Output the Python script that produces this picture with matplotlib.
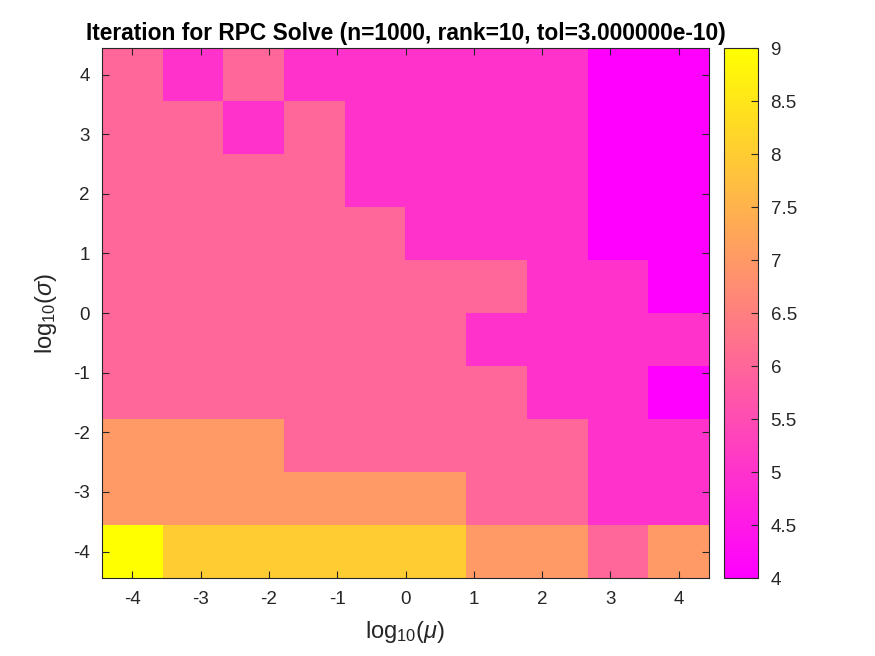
import numpy as np
import matplotlib
matplotlib.use('Agg')
import matplotlib.pyplot as plt

plt.rcParams['font.family'] = ['Liberation Sans', 'DejaVu Sans']
plt.rcParams['mathtext.fontset'] = 'custom'
plt.rcParams['mathtext.rm'] = 'Liberation Sans'
plt.rcParams['mathtext.it'] = 'Liberation Sans:italic'

# grid of log10(mu) and log10(sigma) values
log_mu = np.linspace(-4, 4, 10)
log_sigma = np.linspace(-4, 4, 10)

# iteration counts, rows from sigma=4 (top) down to sigma=-4 (bottom)
iters = [
    [6, 5, 6, 5, 5, 5, 5, 5, 4, 4],
    [6, 6, 5, 6, 5, 5, 5, 5, 4, 4],
    [6, 6, 6, 6, 5, 5, 5, 5, 4, 4],
    [6, 6, 6, 6, 6, 5, 5, 5, 4, 4],
    [6, 6, 6, 6, 6, 6, 6, 5, 5, 4],
    [6, 6, 6, 6, 6, 6, 5, 5, 5, 5],
    [6, 6, 6, 6, 6, 6, 6, 5, 5, 4],
    [7, 7, 7, 6, 6, 6, 6, 6, 5, 5],
    [7, 7, 7, 7, 7, 7, 6, 6, 5, 5],
    [9, 8, 8, 8, 8, 8, 7, 7, 6, 7],
]

title = 'Iteration for RPC Solve (n=1000, rank=10, tol=3.000000e-10)'
tick_vals = [-4, -3, -2, -1, 0, 1, 2, 3, 4]
cbar_ticks = [4, 4.5, 5, 5.5, 6, 6.5, 7, 7.5, 8, 8.5, 9]

dark = '#262626'

fig = plt.figure(figsize=(8.75, 6.56), dpi=100)
ax = fig.add_axes([0.1166, 0.1189, 0.6937, 0.8079])
cax = fig.add_axes([0.8275, 0.1189, 0.0389, 0.8079])

dx = log_mu[1] - log_mu[0]
dy = log_sigma[1] - log_sigma[0]
extent = [log_mu[0] - dx / 2, log_mu[-1] + dx / 2,
          log_sigma[0] - dy / 2, log_sigma[-1] + dy / 2]
im = ax.imshow(np.array(iters), cmap='spring', vmin=4, vmax=9,
               extent=extent, origin='upper', aspect='auto',
               interpolation='nearest')

ax.set_xticks(tick_vals)
ax.set_yticks(tick_vals)
ax.set_xticklabels([str(v) for v in tick_vals])
ax.set_yticklabels([str(v) for v in tick_vals])
ax.tick_params(direction='in', length=5, width=0.8, colors=dark,
               labelsize=13.5, top=True, right=True, pad=9)
for s in ax.spines.values():
    s.set_color(dark)
    s.set_linewidth(0.8)

ax.set_xlabel(r'log$_{10}$($\mu$)', fontsize=17, color=dark, labelpad=8)
ax.set_ylabel(r'log$_{10}$($\sigma$)', fontsize=17, color=dark, labelpad=10)
ax.set_title(title, fontsize=16.4, fontweight='bold', color='black', pad=6)

cb = fig.colorbar(im, cax=cax, ticks=cbar_ticks)
cb.ax.set_yticklabels([f'{t:g}' for t in cbar_ticks])
cb.ax.tick_params(direction='in', length=5, width=0.8, colors=dark,
                  labelsize=13.5, pad=9)
cb.outline.set_edgecolor(dark)
cb.outline.set_linewidth(0.8)

fig.savefig('out.png', dpi=100)
